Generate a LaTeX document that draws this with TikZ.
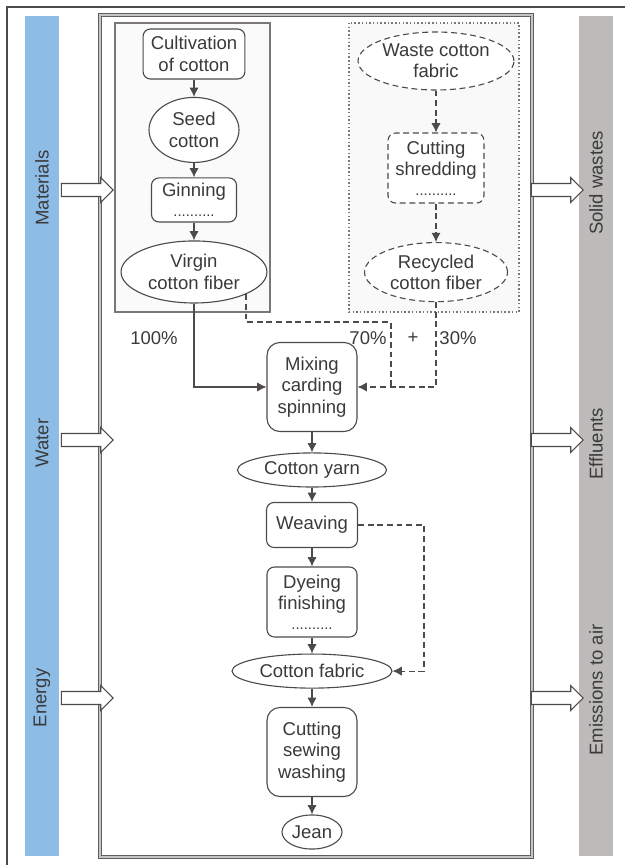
\documentclass[tikz,border=0pt]{standalone}
\usepackage{fontspec}
\setmainfont{Liberation Sans}
\usepackage{xcolor}
\usetikzlibrary{shapes.geometric,shapes.arrows,arrows.meta}
\definecolor{linegray}{HTML}{4F4A4A}
\definecolor{textgray}{HTML}{3A3A3A}
\definecolor{barblue}{HTML}{8DBDE6}
\definecolor{bargray}{HTML}{BDBBBA}
\def\pxu{0.54pt}

\begin{document}
\begin{tikzpicture}[x=\pxu, y=-\pxu, node distance=37.8pt, font=\fontsize{10}{11.5}\selectfont, text=textgray]
\tikzstyle{box} = [rectangle, rounded corners=4pt, draw=linegray, fill=white, line width=0.6pt, align=center, inner sep=1pt]
\tikzstyle{dbox} = [box, dashed, dash pattern=on 3.2pt off 2pt]
\tikzstyle{oval} = [ellipse, draw=linegray, fill=white, line width=0.6pt, align=center, inner sep=0pt]
\tikzstyle{doval} = [oval, dashed, dash pattern=on 3.2pt off 2pt]
\tikzstyle{arrow} = [line width=0.6pt, draw=linegray, -{Latex[length=5pt,width=5pt]}]
\tikzstyle{darrow} = [arrow, dash pattern=on 3.2pt off 2pt]
\tikzstyle{dline} = [line width=0.6pt, draw=linegray, dash pattern=on 3.2pt off 2pt]
\tikzstyle{bigarrow} = [single arrow, draw=linegray, fill=white, line width=0.6pt, minimum height=28pt, minimum width=13pt, inner sep=0pt, inner ysep=3.2pt, single arrow head extend=3.2pt]
\tikzstyle{bar} = [rectangle, minimum width=18.4pt, minimum height=453.6pt, inner sep=0pt]
\tikzstyle{barlabel} = [rotate=90, inner sep=0pt]
\tikzstyle{frame} = [draw=linegray!90, double=gray!45, double distance=0.6pt, line width=0.8pt]
\tikzstyle{dotbox} = [draw=linegray!75, fill=gray!5, line width=0.7pt, dash pattern=on 0.8pt off 1.2pt]

\useasboundingbox (0,0) rectangle (624,865);
\draw[linegray, line width=0.6pt] (7,870) -- (7,7) -- (630,7);

% Side bars
\node (inbar) [bar, fill=barblue] at (42,436) {};
\node (outbar) [bar, fill=bargray] at (596,436) {};
\node (lmat) [barlabel] at (42,188) {Materials};
\node (lwat) [barlabel] at (42,443) {Water};
\node (lene) [barlabel] at (42,698) {Energy};
\node (lsol) [barlabel] at (596,183) {Solid wastes};
\node (leff) [barlabel] at (596,444) {Effluents};
\node (lemi) [barlabel] at (596,690) {Emissions to air};

% System boundary
\draw[frame] (100,15) rectangle (532,857);
\draw[linegray!75, line width=0.6pt, fill=gray!4] (115,23) rectangle (270,312);
\draw[dotbox] (349,23) rectangle (519,312);

% Inputs and outputs
\node (amat) [bigarrow] at (84,190) {};
\node (awat) [bigarrow] at (84,440) {};
\node (aene) [bigarrow] at (84,698) {};
\node (asol) [bigarrow] at (554,190) {};
\node (aeff) [bigarrow] at (554,440) {};
\node (aemi) [bigarrow] at (554,698) {};

% Virgin cotton
\node (cult) [box, minimum width=55pt, minimum height=27pt] at (194,54) {Cultivation\\of cotton};
\node (seed) [oval, below of=cult, yshift=-3.2pt, minimum width=48.6pt, minimum height=35.1pt] {Seed\\cotton};
\node (gin) [box, below of=seed, minimum width=45.9pt, minimum height=23.8pt] {Ginning\\[-1pt]{\footnotesize ..........}};
\node (virgin) [oval, below of=gin, yshift=-1.1pt, minimum width=78.8pt, minimum height=33.5pt] {Virgin\\cotton fiber};

% Recycled cotton
\node (waste) [doval, minimum width=84.2pt, minimum height=31.3pt] at (436,61) {Waste cotton\\fabric};
\node (shred) [dbox, below of=waste, yshift=-20pt, minimum width=51.8pt, minimum height=37.8pt] {Cutting\\shredding\\[-1pt]{\footnotesize ..........}};
\node (recyc) [doval, below of=shred, yshift=-18.4pt, minimum width=77.2pt, minimum height=31.9pt] {Recycled\\cotton fiber};

% Jean production
\node (mix) [box, rounded corners=7pt, minimum width=48.6pt, minimum height=48.1pt] at (312,387) {Mixing\\carding\\spinning};
\node (yarn) [oval, below of=mix, yshift=-7pt, minimum width=80.5pt, minimum height=18.4pt] {Cotton yarn};
\node (weave) [box, below of=yarn, yshift=8.1pt, minimum width=49.1pt, minimum height=24.3pt] {Weaving};
\node (dye) [box, below of=weave, yshift=-3.8pt, minimum width=48.6pt, minimum height=37.8pt] {Dyeing\\finishing\\[-1pt]{\footnotesize ..........}};
\node (fabric) [oval, below of=dye, yshift=0.5pt, minimum width=86.4pt, minimum height=18.4pt] {Cotton fabric};
\node (sew) [box, rounded corners=7pt, below of=fabric, yshift=-5.9pt, minimum width=48.6pt, minimum height=48.1pt] {Cutting\\sewing\\washing};
\node (jean) [oval, below of=sew, yshift=-5.4pt, minimum width=32.4pt, minimum height=18.4pt] {Jean};

% Shares
\node (p100) at (154,338) {100\%};
\node (p70) at (368,338) {70\%};
\node (plus) at (413,338) {+};
\node (p30) at (458,338) {30\%};
\coordinate (c70) at (391,322);

% Arrows
\draw [arrow] (cult) -- (seed);
\draw [arrow] (seed) -- (gin);
\draw [arrow] (gin) -- (virgin);
\draw [darrow] (waste) -- (shred);
\draw [darrow] (shred) -- (recyc);
\draw [arrow] (virgin.south) |- (mix.west);
\draw [dline] (virgin.south east) |- (c70) -- (c70 |- mix.east);
\draw [darrow] (recyc.south) |- (mix.east);
\draw [arrow] (mix) -- (yarn);
\draw [arrow] (yarn) -- (weave);
\draw [arrow] (weave) -- (dye);
\draw [arrow] (dye) -- (fabric);
\draw [darrow] (weave.east) -- ++(66,0) |- (fabric.east);
\draw [arrow] (fabric) -- (sew);
\draw [arrow] (sew) -- (jean);

\end{tikzpicture}
\end{document}
